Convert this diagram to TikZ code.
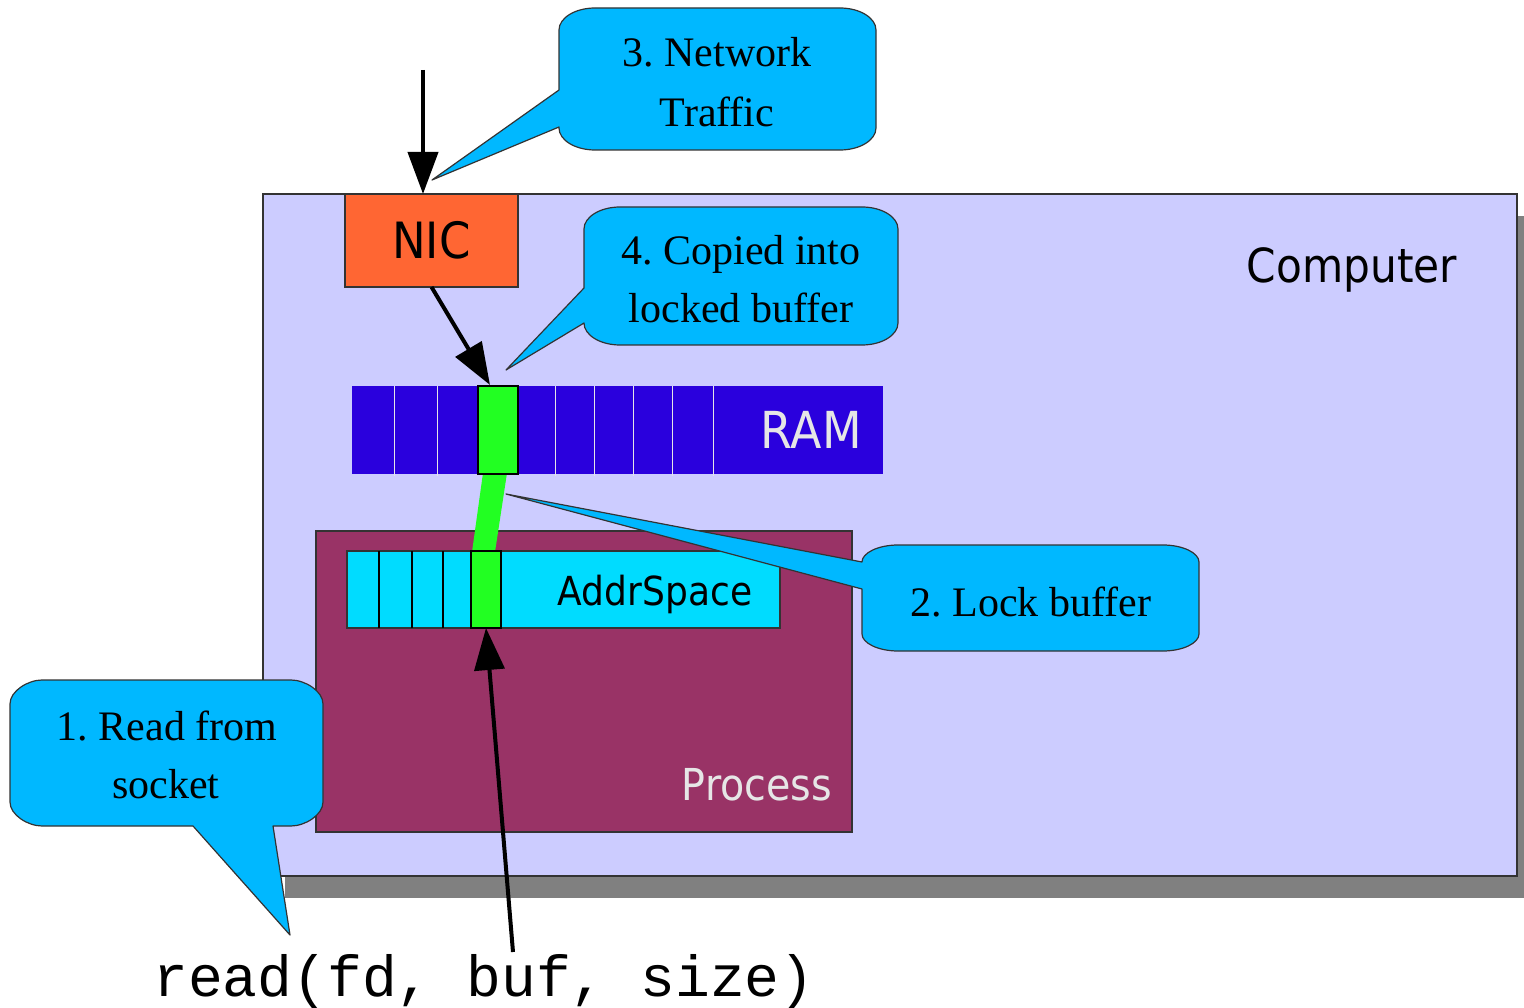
\documentclass[tikz,border=0pt]{standalone}
\usepackage{fontspec}
\setmainfont{Liberation Serif}
\newfontfamily\labsans[FakeStretch=0.9]{DejaVu Sans}
\newfontfamily\codefont{Liberation Mono}
\usetikzlibrary{arrows.meta}
\definecolor{lav}{HTML}{CCCCFF}
\definecolor{shadowgray}{HTML}{808080}
\definecolor{nicorange}{HTML}{FF6633}
\definecolor{ramblue}{HTML}{2A00DD}
\definecolor{bufgreen}{HTML}{22FF22}
\definecolor{procplum}{HTML}{993366}
\definecolor{addrcyan}{HTML}{00DCFF}
\definecolor{bubble}{HTML}{00B8FF}
\definecolor{lightlbl}{HTML}{E6E6E6}
\definecolor{edge}{HTML}{333333}
\frenchspacing
\begin{document}
\begin{tikzpicture}[x=1pt,y=-1pt,
  box/.style={draw=edge, line width=1.2pt, inner sep=0pt, outer sep=0pt},
  bubblebox/.style={fill=bubble, draw=edge, line width=1.2pt, line join=round},
  bubbletext/.style={font=\frenchspacing\fontsize{42}{50}\selectfont, inner sep=0pt, anchor=base},
  sanslbl/.style={inner sep=0pt, anchor=base},
  bigarrow/.style={line width=4pt, -{Triangle[length=42pt,width=30pt]}},
  ramdiv/.style={draw=lightlbl, line width=1pt},
  addrdiv/.style={draw=black, line width=1.2pt}]
\clip (0,0) rectangle (1524,1008);
\fill[white] (0,0) rectangle (1524,1008);
% computer
\fill[shadowgray] (285,216) rectangle (1539,898);
\node[box, fill=lav, minimum width=1254pt, minimum height=682pt] (comp) at (890,535) {};
\node[sanslbl, font=\labsans\fontsize{47}{56}\selectfont] (complbl) at (1352,283) {Computer};
% NIC
\node[box, fill=nicorange, minimum width=173pt, minimum height=93pt,
      font=\labsans\fontsize{50}{60}\selectfont] (nic) at (431.5,240.5) {NIC};
% process
\node[box, fill=procplum, minimum width=536pt, minimum height=301pt] (proc) at (584,681.5) {};
\node[sanslbl, text=lightlbl, font=\labsans\fontsize{44}{52}\selectfont] (proclbl) at (757,800) {Process};
% green link
\fill[bufgreen] (483,473) -- (507,473) -- (495,552) -- (472,552) -- cycle;
% RAM
\node[inner sep=0pt, outer sep=0pt, fill=ramblue, minimum width=531pt, minimum height=88pt] (ram) at (617.5,430) {};
\foreach \x in {394,437,555,594,633,672,713} \draw[ramdiv] (\x,386) -- (\x,476);
\node[box, draw=black, fill=bufgreen, minimum width=40pt, minimum height=88pt] (ramg) at (498,430) {};
\node[inner sep=0pt, anchor=base east, text=lightlbl, font=\labsans\fontsize{51}{60}\selectfont] (ramlbl) at (862,448) {RAM};
% AddrSpace
\node[box, fill=addrcyan, minimum width=433pt, minimum height=77pt] (addr) at (563.5,589.5) {};
\foreach \x in {379,412,443} \draw[addrdiv] (\x,551) -- (\x,628);
\node[box, draw=black, fill=bufgreen, minimum width=30pt, minimum height=77pt] (addrg) at (486,589.5) {};
\node[sanslbl, font=\labsans\fontsize{40}{48}\selectfont] (addrlbl) at (655,605) {AddrSpace};
% callout 4
\draw[bubblebox] (620,207) -- (862,207) .. controls (882,207) and (898,217) .. (898,229)
  -- (898,323) .. controls (898,335) and (882,345) .. (862,345)
  -- (620,345) .. controls (600,345) and (584,335) .. (584,323)
  -- (506,370) -- (584,288)
  -- (584,229) .. controls (584,217) and (600,207) .. (620,207) -- cycle;
\node[bubbletext] (t4a) at (741,265) {4. Copied into};
\node[bubbletext] (t4b) at (741,323) {locked buffer};
% NIC -> RAM
\coordinate (ramtip) at (490,385);
\draw[bigarrow] (nic.south) -- (ramtip);
% callout 2
\draw[bubblebox] (898,545) -- (1163,545) .. controls (1183,545) and (1199,553) .. (1199,562)
  -- (1199,634) .. controls (1199,643) and (1183,651) .. (1163,651)
  -- (898,651) .. controls (878,651) and (862,643) .. (862,634)
  -- (862,589) -- (506,494) -- (862,562)
  .. controls (862,553) and (878,545) .. (898,545) -- cycle;
\node[bubbletext] (t2) at (1031,616) {2. Lock buffer};
% callout 1
\draw[bubblebox] (42,680) -- (291,680) .. controls (305,680) and (323,691) .. (323,704)
  -- (323,802) .. controls (323,815) and (305,826) .. (291,826)
  -- (273,826) -- (290,935) -- (193,826)
  -- (42,826) .. controls (28,826) and (10,815) .. (10,802)
  -- (10,704) .. controls (10,691) and (28,680) .. (42,680) -- cycle;
\node[bubbletext] (t1a) at (167,740) {1. Read from};
\node[bubbletext] (t1b) at (166,798) {socket};
% read call
\node[inner sep=0pt, anchor=base, font=\codefont\fontsize{58}{66}\selectfont] (readcall) at (484,996) {read(fd, buf, size)};
\coordinate (readsrc) at (513,952);
\draw[bigarrow] (readsrc) -- (addrg.south);
% callout 3
\draw[bubblebox] (595,8) -- (840,8) .. controls (860,8) and (876,18) .. (876,30)
  -- (876,128) .. controls (876,140) and (860,150) .. (840,150)
  -- (595,150) .. controls (575,150) and (559,140) .. (559,128)
  -- (559,127) -- (432,180) -- (559,90)
  -- (559,30) .. controls (559,18) and (575,8) .. (595,8) -- cycle;
\node[bubbletext] (t3a) at (717,67) {3. Network};
\node[bubbletext] (t3b) at (717,127) {Traffic};
% network in
\coordinate (netsrc) at (423,70);
\draw[bigarrow] (netsrc) -- (nic.north -| netsrc);
\end{tikzpicture}
\end{document}
